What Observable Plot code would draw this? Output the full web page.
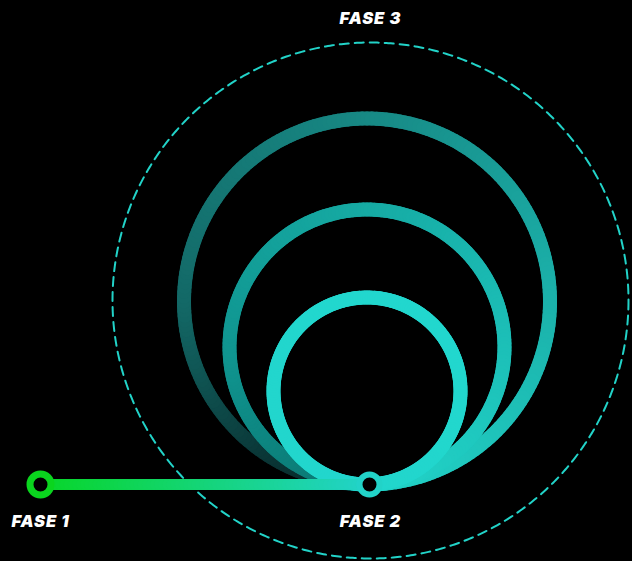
<!DOCTYPE html>
<html>
<head>
<meta charset="utf-8">
<script src="https://cdn.jsdelivr.net/npm/d3@7"></script>
<script src="https://cdn.jsdelivr.net/npm/@observablehq/plot@0.6"></script>
<style>
  html, body { margin: 0; padding: 0; background: #000; }
  #chart svg { display: block; }
  #chart svg text { letter-spacing: 0.9px; }
</style>
</head>
<body>
<div id="chart"></div>
<script>
// ---- data ----
const phaseLabels = ["FASE 1", "FASE 2", "FASE 3"];
const phaseX = [40, 370, 370];
const phaseLabelY = [521, 521, 18];
const phaseNodeX = [40, 369];
const phaseNodeY = [484, 484];

const ringNames = ["exterior", "media", "interior"];
const ringCx = [366.5, 366.5, 366.5];
const ringR = [183, 137.5, 93.5];
const ringBaseY = [484, 484, 484];

const orbitCx = [370];
const orbitCy = [300];
const orbitR = [258];

// ---- styles ----
const ringStopT = [0, 0.1, 0.25, 0.5, 0.75, 1];
const ringColors = [
  ["#062020", "#0a3737", "#136866", "#178884", "#1bb1aa", "#22d3c8"],
  ["#0a716d", "#0c807b", "#109590", "#16aaa3", "#1cbfb7", "#22d3c8"],
  ["#22d6cd", "#22d6cd", "#22d6cd", "#22d7ce", "#22d7ce", "#22d6cc"]
];
const lineColors = ["#07d626", "#22d3c8"];

// ---- build geometry from data ----
const N = 240;
const ringSegs = [];
ringNames.forEach((name, k) => {
  const cx = ringCx[k], r = ringR[k], cy = ringBaseY[k] - r;
  const col = d3.scaleLinear().domain(ringStopT).range(ringColors[k]).interpolate(d3.interpolateRgb);
  for (let i = 0; i < N; i++) {
    const a0 = (i / N) * 2 * Math.PI, a1 = ((i + 1) / N) * 2 * Math.PI;
    ringSegs.push({
      ring: name,
      x1: cx - r * Math.sin(a0), y1: cy + r * Math.cos(a0),
      x2: cx - r * Math.sin(a1), y2: cy + r * Math.cos(a1),
      color: col((i + 0.5) / N)
    });
  }
});

const M = 80;
const lineSegs = [];
const lcol = d3.interpolateRgb(lineColors[0], lineColors[1]);
for (let i = 0; i < M; i++) {
  const xa = phaseNodeX[0] + (phaseNodeX[1] - phaseNodeX[0]) * i / M;
  const xb = phaseNodeX[0] + (phaseNodeX[1] - phaseNodeX[0]) * (i + 1) / M;
  lineSegs.push({x1: xa, x2: xb, y1: phaseNodeY[0], y2: phaseNodeY[1], color: lcol((i + 0.5) / M)});
}

const orbit = d3.range(0, 721).map(i => {
  const a = i / 720 * 2 * Math.PI;
  return {x: orbitCx[0] + orbitR[0] * Math.cos(a), y: orbitCy[0] + orbitR[0] * Math.sin(a)};
});

const nodes = phaseNodeX.map((x, i) => ({x, y: phaseNodeY[i], label: phaseLabels[i]}));
const labels = phaseLabels.map((t, i) => ({x: phaseX[i], y: phaseLabelY[i], t}));

const chart = Plot.plot({
  width: 632,
  height: 561,
  margin: 0,
  style: {background: "#000"},
  x: {domain: [0, 632], range: [0, 632], axis: null},
  y: {domain: [0, 561], range: [0, 561], axis: null},
  color: {type: "identity"},
  marks: [
    Plot.line(orbit, {x: "x", y: "y", stroke: "#22d3c8", strokeWidth: 2, strokeDasharray: "9,6"}),
    Plot.link(ringSegs.filter(d => d.ring === "exterior"), {x1: "x1", y1: "y1", x2: "x2", y2: "y2", stroke: "color", strokeWidth: 14, strokeLinecap: "round"}),
    Plot.link(ringSegs.filter(d => d.ring === "media"), {x1: "x1", y1: "y1", x2: "x2", y2: "y2", stroke: "color", strokeWidth: 14, strokeLinecap: "round"}),
    Plot.link(ringSegs.filter(d => d.ring === "interior"), {x1: "x1", y1: "y1", x2: "x2", y2: "y2", stroke: "color", strokeWidth: 14, strokeLinecap: "round"}),
    Plot.link(lineSegs, {x1: "x1", y1: "y1", x2: "x2", y2: "y2", stroke: "color", strokeWidth: 11, strokeLinecap: "round"}),
    Plot.dot([nodes[0]], {x: "x", y: "y", r: 10.5, fill: "#000", stroke: "#0ad51e", strokeWidth: 7}),
    Plot.dot([nodes[1]], {x: "x", y: "y", r: 10, fill: "#000", stroke: "#22d3c8", strokeWidth: 6}),
    Plot.text(labels, {x: "x", y: "y", text: "t", fill: "#fff", fontSize: 16.5, fontWeight: 900, fontStyle: "italic", fontFamily: "Inter, Roboto, sans-serif"})
  ]
});
document.getElementById("chart").appendChild(chart);
</script>
</body>
</html>
